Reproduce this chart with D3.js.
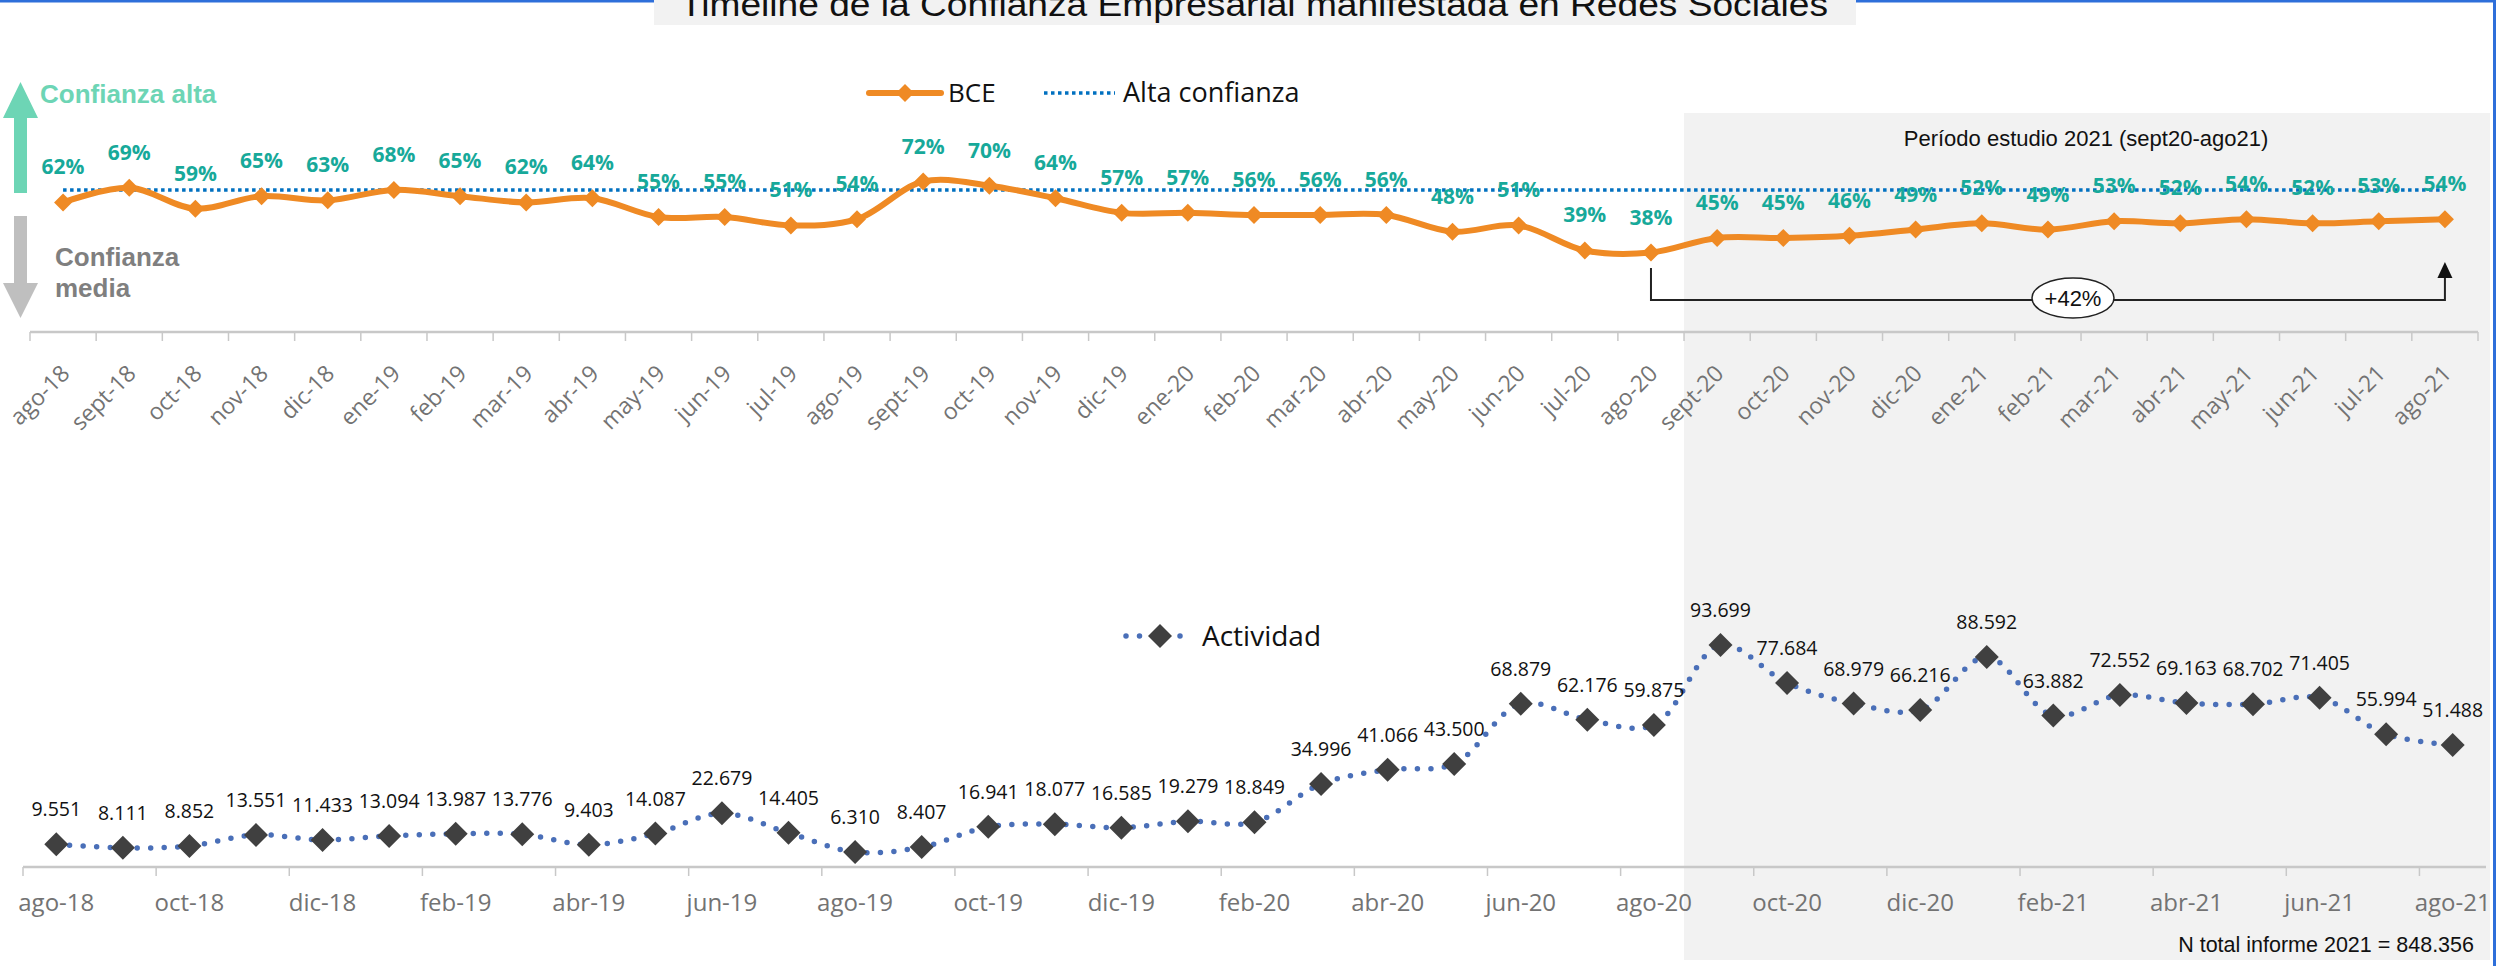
<!DOCTYPE html>
<html>
<head>
<meta charset="utf-8">
<script src="https://cdn.jsdelivr.net/npm/d3@7"></script>
<style>
  body { margin: 0; background: #fff; }
  svg { display: block; }
</style>
</head>
<body>
<svg id="chart" width="2496" height="966"></svg>
<script>
// meses del eje (ago-18 .. ago-21)
const months = ['ago-18','sept-18','oct-18','nov-18','dic-18','ene-19','feb-19','mar-19','abr-19','may-19','jun-19','jul-19',
  'ago-19','sept-19','oct-19','nov-19','dic-19','ene-20','feb-20','mar-20','abr-20','may-20','jun-20','jul-20',
  'ago-20','sept-20','oct-20','nov-20','dic-20','ene-21','feb-21','mar-21','abr-21','may-21','jun-21','jul-21','ago-21'];

// confianza empresarial (BCE)
const bce = [0.62,0.69,0.59,0.65,0.63,0.68,0.65,0.62,0.64,0.55,0.55,0.51,
  0.54,0.72,0.70,0.64,0.57,0.57,0.56,0.56,0.56,0.48,0.51,0.39,
  0.38,0.45,0.45,0.46,0.49,0.52,0.49,0.53,0.52,0.54,0.52,0.53,0.54];

const altaConfianza = 0.68;

// actividad (menciones)
const actividad = [9551,8111,8852,13551,11433,13094,13987,13776,9403,14087,22679,14405,
  6310,8407,16941,18077,16585,19279,18849,34996,41066,43500,68879,62176,
  59875,93699,77684,68979,66216,88592,63882,72552,69163,68702,71405,55994,51488];

const studyStart = 'sept-20';
const studyEnd = 'ago-21';
const studyLabel = 'Período estudio 2021 (sept20-ago21)';
const growthLabel = '+42%';
const totalLabel = 'N total informe 2021 = 848.356';
const title = 'Timeline de la Confianza Empresarial manifestada en Redes Sociales';

const svg = d3.select('#chart');
const sans = '"Open Sans", "Noto Sans", sans-serif';
const arial = '"Liberation Sans", Arial, sans-serif';

const es = d3.formatLocale({decimal: ',', thousands: '.', grouping: [3], currency: ['', '€']});
const fmtN = es.format(',');
const fmtP = d3.format('.0%');

// ---- scales
const xTop = d3.scaleBand().domain(months).range([30, 2478]);
const xBot = d3.scaleBand().domain(months).range([23, 2486]);
const yTop = d3.scaleLinear().domain([0, 1]).range([332, 123]);
const yBot = d3.scaleLinear().domain([0, 100000]).range([867, 630]);
const cxTop = m => xTop(m) + xTop.bandwidth() / 2;
const cxBot = m => xBot(m) + xBot.bandwidth() / 2;

// ---- frame + study period background
svg.append('rect')
    .attr('x', xTop(studyStart)).attr('y', 113)
    .attr('width', 2490 - xTop(studyStart)).attr('height', 847)
    .attr('fill', '#f2f2f2');

svg.append('line').attr('x1', 0).attr('x2', 2496).attr('y1', 1).attr('y2', 1)
    .attr('stroke', '#2e6fda').attr('stroke-width', 3);
svg.append('line').attr('x1', 2494.5).attr('x2', 2494.5).attr('y1', 0).attr('y2', 966)
    .attr('stroke', '#2e6fda').attr('stroke-width', 3);

svg.append('rect').attr('x', 654).attr('y', 0).attr('width', 1202).attr('height', 25)
    .attr('fill', '#f2f2f2');
svg.append('text').attr('x', 680).attr('y', 16)
    .attr('textLength', 1148).attr('lengthAdjust', 'spacingAndGlyphs')
    .style('font-family', arial).style('font-size', '34px').attr('fill', '#111')
    .text(title);

svg.append('text').attr('x', 2086).attr('y', 146).attr('text-anchor', 'middle')
    .style('font-family', arial).style('font-size', '22px').attr('fill', '#111')
    .text(studyLabel);

// ---- left arrows
svg.append('path').attr('d', 'M20.5,82 L38,118 L27,118 L27,193 L14,193 L14,118 L3,118 Z').attr('fill', '#6dd5b5');
svg.append('path').attr('d', 'M14,216 L27,216 L27,283 L38,283 L20.5,318 L3,283 L14,283 Z').attr('fill', '#bfbfbf');
svg.append('text').attr('x', 40).attr('y', 103)
    .style('font-family', arial).style('font-size', '26px').style('font-weight', 'bold')
    .attr('fill', '#6dd5b5').text('Confianza alta');
svg.append('text').attr('x', 55).attr('y', 266)
    .style('font-family', arial).style('font-size', '26px').style('font-weight', 'bold')
    .attr('fill', '#7f7f7f')
  .selectAll('tspan').data(['Confianza', 'media']).join('tspan')
    .attr('x', 55).attr('dy', (d, i) => i ? 31 : 0).text(d => d);

// ---- upper axis
const axTop = svg.append('g');
axTop.append('line').attr('x1', xTop.range()[0]).attr('x2', xTop.range()[1])
    .attr('y1', 332).attr('y2', 332).attr('stroke', '#c8c8c8').attr('stroke-width', 2.5);
axTop.selectAll('.tick').data(d3.range(months.length + 1)).join('line')
    .attr('x1', i => xTop.range()[0] + i * xTop.step()).attr('x2', i => xTop.range()[0] + i * xTop.step())
    .attr('y1', 332).attr('y2', 341).attr('stroke', '#c8c8c8').attr('stroke-width', 1.5);
axTop.selectAll('text').data(months).join('text')
    .attr('transform', d => `translate(${cxTop(d) + 8},375) rotate(-45)`)
    .attr('text-anchor', 'end')
    .style('font-family', sans).style('font-size', '23px').attr('fill', '#737373')
    .text(d => d);

// ---- upper series
const diamond = s => `M0,${-s} L${s},0 L0,${s} L${-s},0 Z`;

svg.append('line')
    .attr('x1', cxTop(months[0])).attr('x2', cxTop(months[months.length - 1]))
    .attr('y1', yTop(altaConfianza)).attr('y2', yTop(altaConfianza))
    .attr('stroke', '#0070c0').attr('stroke-width', 3.5).attr('stroke-dasharray', '3.5 3.5');

const lineTop = d3.line().x((d, i) => cxTop(months[i])).y(d => yTop(d)).curve(d3.curveCatmullRom.alpha(0.5));
svg.append('path').datum(bce).attr('d', lineTop)
    .attr('fill', 'none').attr('stroke', '#ef8a24').attr('stroke-width', 6);
svg.append('g').selectAll('path').data(bce).join('path')
    .attr('transform', (d, i) => `translate(${cxTop(months[i])},${yTop(d)})`)
    .attr('d', diamond(9)).attr('fill', '#ef8a24');
svg.append('g').selectAll('text').data(bce).join('text')
    .attr('x', (d, i) => cxTop(months[i])).attr('y', d => yTop(d) - 28)
    .attr('text-anchor', 'middle')
    .style('font-family', sans).style('font-size', '21px').style('font-weight', 'bold')
    .attr('fill', '#17a99a').text(d => fmtP(d));

// legend top
const lg = svg.append('g');
lg.append('line').attr('x1', 869).attr('x2', 941).attr('y1', 93).attr('y2', 93)
    .attr('stroke', '#ef8a24').attr('stroke-width', 6).attr('stroke-linecap', 'round');
lg.append('path').attr('transform', 'translate(905,93)').attr('d', diamond(9)).attr('fill', '#ef8a24');
lg.append('text').attr('x', 948).attr('y', 102)
    .style('font-family', sans).style('font-size', '26px').attr('fill', '#111').text('BCE');
lg.append('line').attr('x1', 1044).attr('x2', 1115).attr('y1', 93).attr('y2', 93)
    .attr('stroke', '#0070c0').attr('stroke-width', 3.5).attr('stroke-dasharray', '3.5 3.5');
lg.append('text').attr('x', 1123).attr('y', 102)
    .style('font-family', sans).style('font-size', '27px').attr('fill', '#111').text('Alta confianza');

// ---- +42% bracket
const xA = cxTop(months[24]);
const xB = cxTop(studyEnd);
const br = svg.append('g');
br.append('path').attr('d', `M${xA},268 L${xA},300 L${xB},300 L${xB},276`)
    .attr('fill', 'none').attr('stroke', '#222').attr('stroke-width', 2);
br.append('path').attr('d', `M${xB},262 L${xB + 7.5},278 L${xB - 7.5},278 Z`).attr('fill', '#111');
br.append('ellipse').attr('cx', 2073).attr('cy', 298).attr('rx', 41).attr('ry', 20)
    .attr('fill', '#fff').attr('stroke', '#222').attr('stroke-width', 1.5);
br.append('text').attr('x', 2073).attr('y', 306).attr('text-anchor', 'middle')
    .style('font-family', arial).style('font-size', '22px').attr('fill', '#111').text(growthLabel);

// ---- lower axis
const axBot = svg.append('g');
axBot.append('line').attr('x1', xBot.range()[0]).attr('x2', xBot.range()[1])
    .attr('y1', 867).attr('y2', 867).attr('stroke', '#c8c8c8').attr('stroke-width', 2.5);
const botTicks = d3.range(0, months.length, 2);
axBot.selectAll('.tk').data(botTicks).join('line')
    .attr('x1', i => xBot(months[i])).attr('x2', i => xBot(months[i]))
    .attr('y1', 867).attr('y2', 876).attr('stroke', '#c8c8c8').attr('stroke-width', 1.5);
axBot.selectAll('text').data(botTicks).join('text')
    .attr('x', i => cxBot(months[i])).attr('y', 911).attr('text-anchor', 'middle')
    .style('font-family', sans).style('font-size', '24px').attr('fill', '#737373')
    .text(i => months[i]);

// ---- lower series
const lineBot = d3.line().x((d, i) => cxBot(months[i])).y(d => yBot(d)).curve(d3.curveCatmullRom.alpha(0.5));
svg.append('path').datum(actividad).attr('d', lineBot)
    .attr('fill', 'none').attr('stroke', '#4a6fb8').attr('stroke-width', 5.5)
    .attr('stroke-linecap', 'round').attr('stroke-dasharray', '0 13.5');
svg.append('g').selectAll('path').data(actividad).join('path')
    .attr('transform', (d, i) => `translate(${cxBot(months[i])},${yBot(d)})`)
    .attr('d', diamond(12)).attr('fill', '#404040');
svg.append('g').selectAll('text').data(actividad).join('text')
    .attr('x', (d, i) => cxBot(months[i])).attr('y', d => yBot(d) - 28)
    .attr('text-anchor', 'middle')
    .style('font-family', sans).style('font-size', '19.5px').attr('fill', '#111')
    .text(d => fmtN(d));

// legend bottom
const lb = svg.append('g');
lb.append('line').attr('x1', 1126).attr('x2', 1182).attr('y1', 636).attr('y2', 636)
    .attr('stroke', '#4a6fb8').attr('stroke-width', 5.5).attr('stroke-linecap', 'round')
    .attr('stroke-dasharray', '0 13.5');
lb.append('path').attr('transform', 'translate(1160,636)').attr('d', diamond(12)).attr('fill', '#404040');
lb.append('text').attr('x', 1202).attr('y', 646)
    .style('font-family', sans).style('font-size', '28px').attr('fill', '#111').text('Actividad');

svg.append('text').attr('x', 2474).attr('y', 952).attr('text-anchor', 'end')
    .style('font-family', arial).style('font-size', '21.5px').attr('fill', '#111').text(totalLabel);
</script>
</body>
</html>
